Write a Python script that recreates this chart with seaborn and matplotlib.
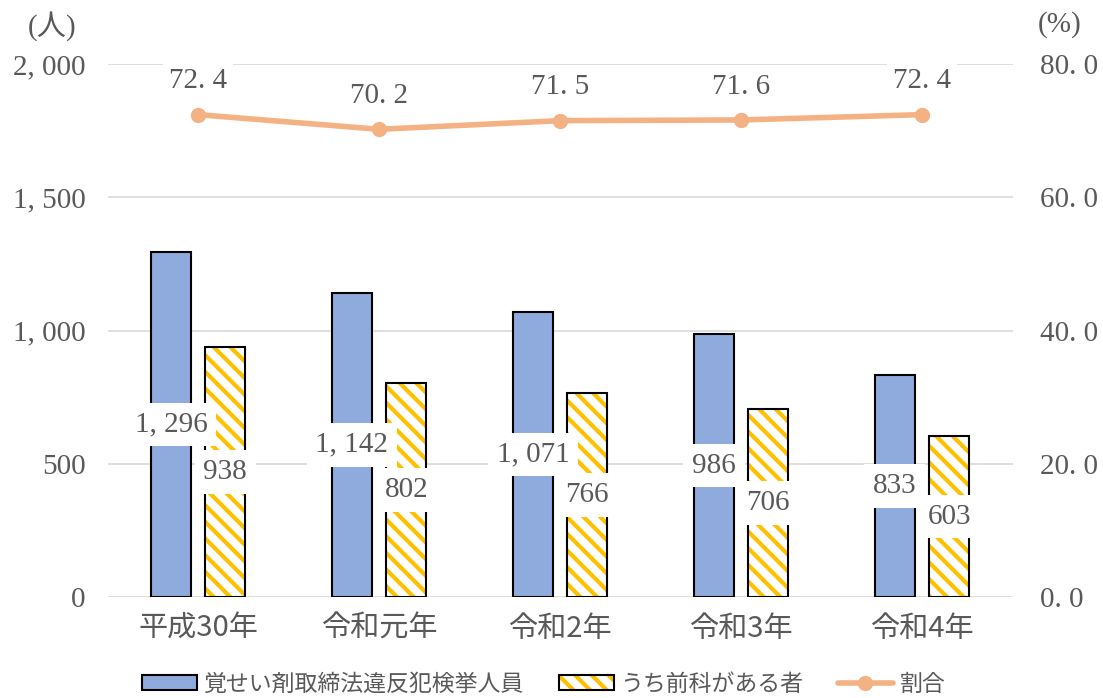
import matplotlib
matplotlib.use("Agg")
import matplotlib.pyplot as plt
from matplotlib.patches import Patch, Rectangle
from matplotlib.lines import Line2D
from matplotlib.legend_handler import HandlerTuple
import seaborn as sns
import pandas as pd

# data
years = ["平成30年", "令和元年", "令和2年", "令和3年", "令和4年"]
arrested = [1296, 1142, 1071, 986, 833]
with_record = [938, 802, 766, 706, 603]
ratio = [72.4, 70.2, 71.5, 71.6, 72.4]
series_names = ["覚せい剤取締法違反犯検挙人員", "うち前科がある者", "割合"]

left_ticks = [0, 500, 1000, 1500, 2000]
left_tick_labels = ["0", "500", "1, 000", "1, 500", "2, 000"]
right_ticks = [0, 20, 40, 60, 80]
right_tick_labels = ["0. 0", "20. 0", "40. 0", "60. 0", "80. 0"]

BLUE = "#8FAADC"
GOLD = "#FFC000"
LINE = "#F4B183"
GRID = "#D9D9D9"
TXT = "#595959"
SERIF = ["Liberation Serif", "Noto Sans CJK JP"]
JP = ["Noto Sans CJK JP", "DejaVu Sans"]
FS = 21

sns.set_theme(style="white")
plt.rcParams["font.family"] = JP
plt.rcParams["hatch.linewidth"] = 3.0

df = pd.DataFrame({
    "year": years * 2,
    "count": arrested + with_record,
    "series": [series_names[0]] * 5 + [series_names[1]] * 5,
})

fig = plt.figure(figsize=(11.03, 6.98), dpi=100)
ax = fig.add_axes([0.0975, 0.1447, 0.8205, 0.7636])

sns.barplot(data=df, x="year", y="count", hue="series", order=years,
            hue_order=series_names[:2], palette=[BLUE, "white"], saturation=1,
            width=0.6, gap=0.27, edgecolor="black", linewidth=1.5,
            errorbar=None, legend=False, ax=ax)

blue_bars = ax.containers[0]
gold_bars = ax.containers[1]
for p in gold_bars:
    p.set_facecolor("white")
    p.set_edgecolor(GOLD)
    p.set_hatch("\\\\")
    p.set_linewidth(0)
    ax.add_patch(Rectangle(p.get_xy(), p.get_width(), p.get_height(),
                           fill=False, edgecolor="black", linewidth=1.5, zorder=p.get_zorder() + 0.1))

box = dict(boxstyle="square,pad=0.3", fc="white", ec="none")
ax.bar_label(blue_bars, labels=[f"{v:,}".replace(",", ", ") for v in arrested],
             label_type="center", fontsize=FS, color=TXT, family=SERIF, bbox=box, zorder=5)
ax.bar_label(gold_bars, labels=[f"{v:,}" for v in with_record],
             label_type="center", fontsize=FS, color=TXT, family=SERIF, bbox=box, zorder=5)

ax.set_ylim(0, 2000)
ax.set_xlim(-0.5, 4.5)
ax.set_yticks(left_ticks)
ax.set_yticklabels(left_tick_labels, family=SERIF, fontsize=FS, color=TXT)
ax.set_xticks(range(len(years)))
ax.set_xticklabels(years, fontsize=FS, color=TXT)
ax.set_xlabel("")
ax.set_ylabel("")
ax.yaxis.grid(True, color=GRID, linewidth=1.2)
ax.set_axisbelow(True)
ax.tick_params(axis="y", length=0, pad=16)
ax.tick_params(axis="x", length=0, pad=12)
sns.despine(ax=ax, left=True, bottom=True)

ax2 = ax.twinx()
sns.lineplot(x=list(range(len(years))), y=ratio, color=LINE, linewidth=4,
             marker="o", markersize=11, markeredgewidth=0, sort=False, ax=ax2)
for i, v in enumerate(ratio):
    ax2.annotate(f"{v:.1f}".replace(".", ". "), (i, v), xytext=(0, 24),
                 textcoords="offset points", ha="center", va="center",
                 fontsize=FS, color=TXT, family=SERIF,
                 bbox=dict(boxstyle="square,pad=0.2", fc="white", ec="none"))
ax2.set_ylim(0, 80)
ax2.set_yticks(right_ticks)
ax2.set_yticklabels(right_tick_labels, family=SERIF, fontsize=FS, color=TXT)
ax2.tick_params(axis="y", length=0, pad=20)
ax2.grid(False)
ax2.set_xlim(-0.5, 4.5)
for s in ax2.spines.values():
    s.set_visible(False)

fig.text(0.047, 0.962, "(人)", family=SERIF, fontsize=FS, color=TXT, ha="center", va="center")
fig.text(0.961, 0.965, "(%)", family=SERIF, fontsize=FS, color=TXT, ha="center", va="center")

handles = [
    Patch(facecolor=BLUE, edgecolor="black", linewidth=1.5),
    (Patch(facecolor="white", edgecolor=GOLD, hatch="\\\\", linewidth=0),
     Patch(fill=False, edgecolor="black", linewidth=1.5)),
    Line2D([], [], color=LINE, linewidth=4, marker="o", markersize=10),
]
fig.legend(handles, series_names, loc="center", bbox_to_anchor=(0.493, 0.02),
           ncol=3, frameon=False, fontsize=16.5, labelcolor=TXT,
           handlelength=2.4, handleheight=0.6, columnspacing=1.5, handletextpad=0.3,
           handler_map={tuple: HandlerTuple(ndivide=1, pad=0)})

fig.savefig("out.png", dpi=100)
